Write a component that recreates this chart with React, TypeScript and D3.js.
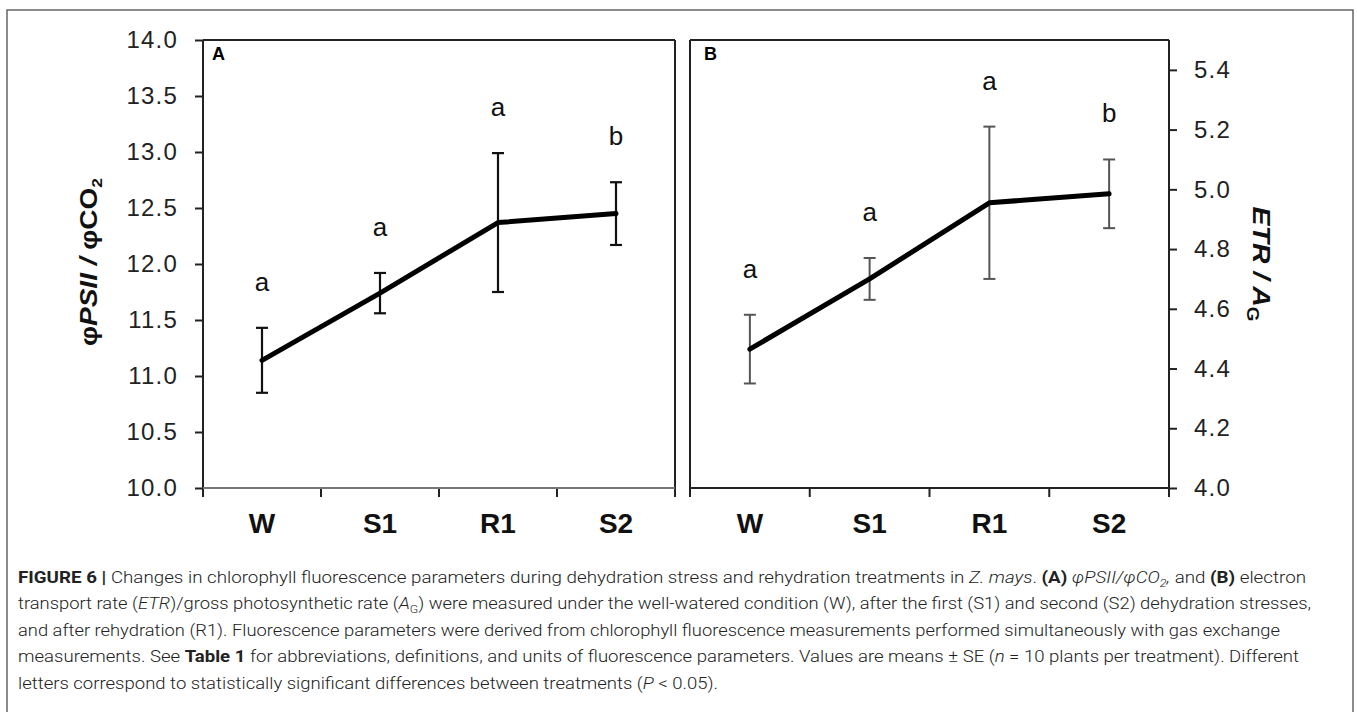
import React, { useEffect, useRef } from 'react';
import * as d3 from 'd3';

const categories = ['W', 'S1', 'R1', 'S2'];

// panel A: phiPSII / phiCO2
const meanA = [11.14, 11.74, 12.37, 12.45];
const seA = [0.29, 0.18, 0.62, 0.28];
const lettersA = ['a', 'a', 'a', 'b'];
const ticksA = [10.0, 10.5, 11.0, 11.5, 12.0, 12.5, 13.0, 13.5, 14.0];

// panel B: ETR / AG
const meanB = [4.465, 4.7, 4.955, 4.985];
const seB = [0.115, 0.07, 0.255, 0.115];
const lettersB = ['a', 'a', 'a', 'b'];
const ticksB = [4.0, 4.2, 4.4, 4.6, 4.8, 5.0, 5.2, 5.4];

const FONT = "'Liberation Sans', Arial, sans-serif";
const CAP_FONT = "Roboto, 'Liberation Sans', sans-serif";

type PanelOpts = {
  x0: number; x1: number; yTop: number; yBot: number;
  domain: [number, number]; ticks: number[];
  mean: number[]; se: number[]; letters: string[];
  side: 'left' | 'right'; tag: string; tagX: number;
  errColor: string; errWidth: number; bottomColor: string;
};

function drawPanel(g: any, o: PanelOpts) {
  const x = d3.scaleBand<string>().domain(categories).range([o.x0, o.x1]);
  const y = d3.scaleLinear().domain(o.domain).range([o.yBot, o.yTop]);
  const bw = x.bandwidth();
  const cx = (c: string) => (x(c) as number) + bw / 2;

  // value axis
  const axis = (o.side === 'left' ? d3.axisLeft(y) : d3.axisRight(y))
    .tickValues(o.ticks)
    .tickSize(8)
    .tickSizeOuter(0)
    .tickPadding(17)
    .tickFormat(d3.format('.1f') as any);
  const ga = g.append('g')
    .attr('transform', `translate(${o.side === 'left' ? o.x0 : o.x1},0)`)
    .call(axis);
  ga.select('.domain').remove();
  ga.selectAll('line').attr('stroke', '#222').attr('stroke-width', 2);
  ga.selectAll('text')
    .attr('font-family', FONT)
    .attr('font-size', 24)
    .attr('letter-spacing', 1.2)
    .attr('fill', '#222');

  // category axis labels
  const gx = g.append('g')
    .attr('transform', `translate(0,${o.yBot})`)
    .call(d3.axisBottom(x).tickSize(0).tickPadding(0));
  gx.select('.domain').remove();
  gx.selectAll('text')
    .attr('font-family', FONT)
    .attr('font-size', 28)
    .attr('font-weight', 'bold')
    .attr('fill', '#111')
    .attr('dy', null)
    .attr('y', 45);

  // boundary ticks on the category axis
  const bounds = categories.map(c => x(c) as number).concat([o.x1]);
  g.append('g').selectAll('line').data(bounds).enter().append('line')
    .attr('x1', (d: number) => d).attr('x2', (d: number) => d)
    .attr('y1', o.yBot).attr('y2', o.yBot + 9)
    .attr('stroke', '#222').attr('stroke-width', 2);

  // frame
  const frame = [
    [o.x0, o.yTop, o.x1, o.yTop, '#222'],
    [o.x0, o.yTop, o.x0, o.yBot, '#222'],
    [o.x1, o.yTop, o.x1, o.yBot, '#222'],
    [o.x0, o.yBot, o.x1, o.yBot, o.bottomColor],
  ];
  g.append('g').selectAll('line').data(frame).enter().append('line')
    .attr('x1', (d: any) => d[0]).attr('y1', (d: any) => d[1])
    .attr('x2', (d: any) => d[2]).attr('y2', (d: any) => d[3])
    .attr('stroke', (d: any) => d[4]).attr('stroke-width', 2);

  g.append('text')
    .attr('x', o.tagX).attr('y', o.yTop + 20)
    .attr('font-family', FONT).attr('font-size', 18).attr('font-weight', 'bold')
    .text(o.tag);

  const pts = categories.map((c, i) => ({ c, m: o.mean[i], s: o.se[i], l: o.letters[i] }));

  // error bars
  const eb = g.append('g').attr('stroke', o.errColor).attr('stroke-width', o.errWidth);
  pts.forEach(p => {
    const xc = cx(p.c);
    eb.append('line').attr('x1', xc).attr('x2', xc).attr('y1', y(p.m + p.s)).attr('y2', y(p.m - p.s));
    eb.append('line').attr('x1', xc - 6).attr('x2', xc + 6).attr('y1', y(p.m + p.s)).attr('y2', y(p.m + p.s));
    eb.append('line').attr('x1', xc - 6).attr('x2', xc + 6).attr('y1', y(p.m - p.s)).attr('y2', y(p.m - p.s));
  });

  // mean line
  const line = d3.line<any>().x(p => cx(p.c)).y(p => y(p.m));
  g.append('path')
    .attr('d', line(pts))
    .attr('fill', 'none')
    .attr('stroke', '#000')
    .attr('stroke-width', 5)
    .attr('stroke-linejoin', 'round')
    .attr('stroke-linecap', 'round');

  // significance letters
  g.append('g').selectAll('text').data(pts).enter().append('text')
    .attr('x', (p: any) => cx(p.c))
    .attr('y', (p: any) => y(p.m + p.s) - 37)
    .attr('text-anchor', 'middle')
    .attr('font-family', FONT)
    .attr('font-size', 26)
    .attr('fill', '#111')
    .text((p: any) => p.l);
}

const Chart = () => {
  const ref = useRef<SVGGElement>(null);

  useEffect(() => {
    const g = d3.select(ref.current);
    g.selectAll('*').remove();

    drawPanel(g, {
      x0: 203, x1: 675, yTop: 40, yBot: 488,
      domain: [10, 14], ticks: ticksA,
      mean: meanA, se: seA, letters: lettersA,
      side: 'left', tag: 'A', tagX: 212,
      errColor: '#111', errWidth: 2.2, bottomColor: '#777',
    });
    drawPanel(g, {
      x0: 690, x1: 1169, yTop: 40, yBot: 488,
      domain: [4, 5.5], ticks: ticksB,
      mean: meanB, se: seB, letters: lettersB,
      side: 'right', tag: 'B', tagX: 704,
      errColor: '#555', errWidth: 2, bottomColor: '#222',
    });

    // y titles
    const tA = g.append('text')
      .attr('transform', 'translate(97,262) rotate(-90)')
      .attr('text-anchor', 'middle')
      .attr('font-family', FONT).attr('font-size', 24).attr('font-weight', 'bold')
      .attr('textLength', 168).attr('lengthAdjust', 'spacingAndGlyphs')
      .attr('fill', '#111');
    tA.append('tspan').text('φ');
    tA.append('tspan').attr('font-style', 'italic').text('PSII / ');
    tA.append('tspan').text('φCO');
    tA.append('tspan').attr('font-size', 15).attr('dy', 5).text('2');

    const tB = g.append('text')
      .attr('transform', 'translate(1253,264) rotate(90)')
      .attr('text-anchor', 'middle')
      .attr('font-family', FONT).attr('font-size', 24).attr('font-weight', 'bold')
      .attr('textLength', 115).attr('lengthAdjust', 'spacingAndGlyphs')
      .attr('fill', '#111');
    tB.append('tspan').attr('font-style', 'italic').text('ETR / A');
    tB.append('tspan').attr('font-size', 16).attr('dy', 6).text('G');
  }, []);

  return <g ref={ref} />;
};

const App = () => {
  const cap = { fontFamily: CAP_FONT, fontSize: 16.5, fontWeight: 300, fill: '#222', lengthAdjust: 'spacingAndGlyphs' } as any;
  return (
    <svg width={1357} height={712} style={{ position: 'absolute', left: 0, top: 0, background: '#fff' }}>
      <rect x={0} y={0} width={1357} height={712} fill="#fff" />
      <path d="M7,712 V10 H1353 V712" fill="none" stroke="#666" strokeWidth={1.5} />
      <Chart />
      <g>
        <text x={18} y={583} textLength={1288} {...cap}>
          <tspan fontWeight="bold">FIGURE 6 |</tspan>
          {' Changes in chlorophyll fluorescence parameters during dehydration stress and rehydration treatments in '}
          <tspan fontStyle="italic">Z. mays</tspan>
          {'. '}
          <tspan fontWeight="bold">(A)</tspan>
          {' '}
          <tspan fontStyle="italic">φPSII/φCO</tspan>
          <tspan dy={4} fontSize={11} fontStyle="italic">2</tspan>
          <tspan dy={-4} fontStyle="italic">,</tspan>
          {' and '}
          <tspan fontWeight="bold">(B)</tspan>
          {' electron'}
        </text>
        <text x={18} y={609} textLength={1293} {...cap}>
          {'transport rate ('}
          <tspan fontStyle="italic">ETR</tspan>
          {')/gross photosynthetic rate ('}
          <tspan fontStyle="italic">A</tspan>
          <tspan dy={4} fontSize={11}>G</tspan>
          <tspan dy={-4}>{') were measured under the well-watered condition (W), after the first (S1) and second (S2) dehydration stresses,'}</tspan>
        </text>
        <text x={18} y={636} textLength={1262} {...cap}>
          and after rehydration (R1). Fluorescence parameters were derived from chlorophyll fluorescence measurements performed simultaneously with gas exchange
        </text>
        <text x={18} y={662} textLength={1281} {...cap}>
          {'measurements. See '}
          <tspan fontWeight="bold">Table 1</tspan>
          {' for abbreviations, definitions, and units of fluorescence parameters. Values are means ± SE ('}
          <tspan fontStyle="italic">n</tspan>
          {' = 10 plants per treatment). Different'}
        </text>
        <text x={18} y={689} textLength={700} {...cap}>
          {'letters correspond to statistically significant differences between treatments ('}
          <tspan fontStyle="italic">P</tspan>
          {' < 0.05).'}
        </text>
      </g>
    </svg>
  );
};

export default App;
